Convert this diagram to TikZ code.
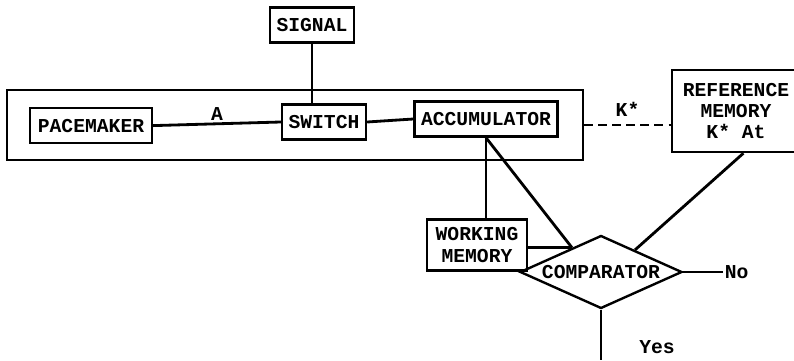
\documentclass[tikz,border=0pt]{standalone}
\usepackage{fontspec}
\setmonofont{Liberation Mono}
\usetikzlibrary{positioning, shapes.geometric}

\tikzset{
  box/.style={draw, line width=1.7pt, inner sep=2pt,
    font=\ttfamily\bfseries\fontsize{14}{15}\selectfont},
  lbl/.style={font=\ttfamily\bfseries\fontsize{14}{15}\selectfont, inner sep=1pt},
  wire/.style={line width=2pt}
}

\begin{document}
\begin{tikzpicture}
  \useasboundingbox (0,0) rectangle (19.85,9);

  % internal clock
  \node[draw, line width=1.7pt, minimum width=14.4cm, minimum height=1.75cm] (clock) at (7.375, 5.875) {};
  \node[box, minimum width=3.05cm, minimum height=0.875cm] (pacemaker) at (2.275, 5.86) {PACEMAKER};
  \node[box, minimum width=2.1cm, minimum height=0.875cm] (switch) at (8.1, 5.95) {SWITCH};
  \node[box, minimum width=3.575cm, minimum height=0.875cm] (accum) at (12.15, 6.025) {ACCUMULATOR};
  \node[box, minimum width=2.1cm, minimum height=0.875cm] (signal) at (7.8, 8.375) {SIGNAL};

  % memories and decision
  \node[box, minimum width=3.2cm, minimum height=2.05cm, align=center] (refmem) at (18.4, 6.225)
    {REFERENCE\\MEMORY\\K* At};
  \node[box, minimum width=2.5cm, minimum height=1.275cm, align=center] (workmem) at (11.925, 2.875)
    {WORKING\\MEMORY};
  \node[box, diamond, shape aspect=2.2, inner sep=0pt, minimum width=4.05cm, minimum height=1.825cm]
    (comparator) at (15.025, 2.2) {COMPARATOR};
  \node[lbl, right=1cm of comparator.east] (no) {No};
  \node[lbl] (yes) at (16.425, 0.32) {Yes};
  \coordinate (yesend) at (15.025, 0);
  \coordinate (cmpin) at (comparator.140);

  \draw[wire] (signal.south) -- (signal.south |- switch.north);
  \draw[wire] (pacemaker.east) -- node[lbl, above] {A} (switch.west);
  \draw[wire] (switch.east) -- (accum.west);
  \draw[wire, dashed, dash pattern=on 6pt off 4pt] (clock.east) -- node[lbl, above=4pt] {K*} (clock.east -| refmem.west);
  \draw[wire] (accum.south) -- (accum.south |- workmem.north);
  \draw[wire] (accum.south) -- (cmpin);
  \draw[wire] (cmpin -| workmem.east) -- (cmpin);
  \draw[wire] (refmem.-80) -- (comparator.33);
  \draw[wire] (comparator.east) -- (no.west);
  \draw[wire] (comparator.south) -- (yesend);
\end{tikzpicture}
\end{document}
